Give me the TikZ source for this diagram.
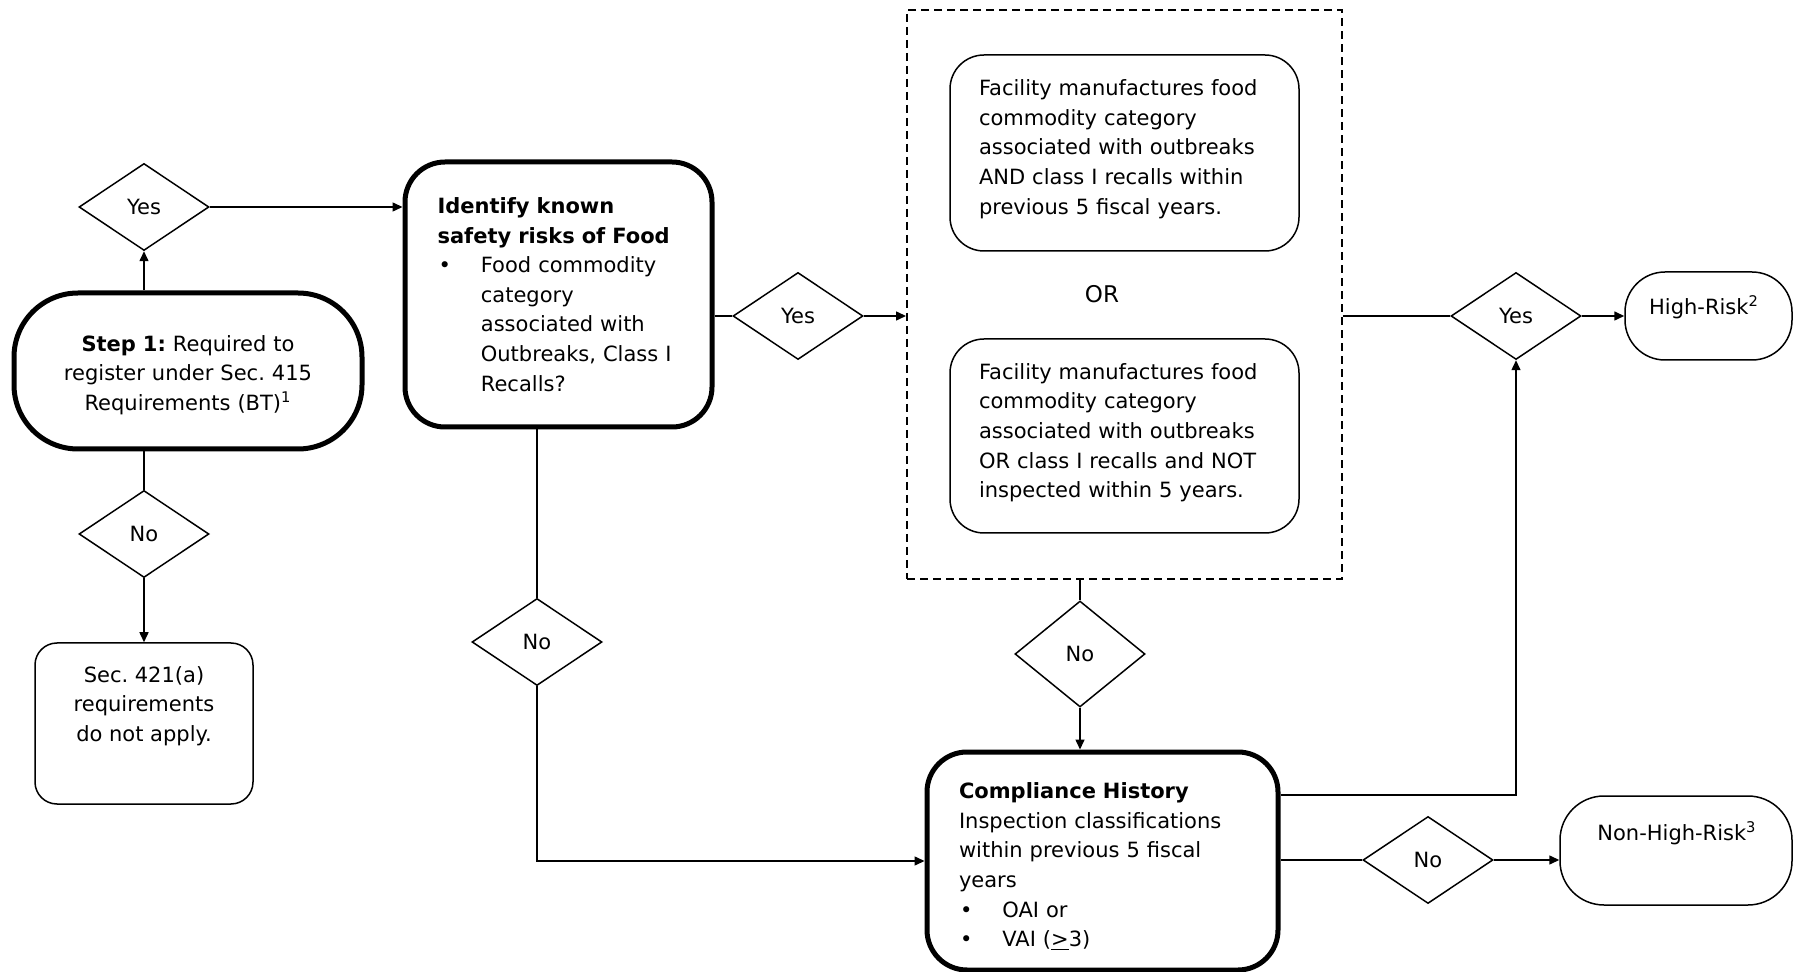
\documentclass[tikz,border=0pt]{standalone}
\usepackage{fontspec}
\setmainfont{DejaVu Sans}
\usetikzlibrary{shapes.geometric,arrows.meta}
\frenchspacing
\begin{document}
\begin{tikzpicture}[x=0.5pt,y=-0.5pt,
  every node/.style={font=\fontsize{10.5}{14.8}\selectfont},
  bigbox/.style={draw,line width=2.5pt,rounded corners=20pt,inner ysep=0pt},
  thinbox/.style={draw,line width=0.75pt},
  dec/.style={draw,diamond,line width=0.75pt,inner sep=0pt,minimum width=65pt,minimum height=43.5pt},
  conn/.style={line width=0.75pt},
  arr/.style={conn,-{Triangle[length=5pt,width=4.5pt]}},
  grpbox/.style={draw,line width=1pt,dash pattern=on 4pt off 2.5pt},
]
\useasboundingbox (0,0) rectangle (1794,972);

% main boxes
\node[bigbox, rounded corners=32pt, minimum width=174pt, minimum height=78pt, align=center, text width=160pt] (step) at (188,371)
  {\rule{0pt}{12pt}\textbf{Step 1:} Required to\\register under Sec. 415\\Requirements (BT)\textsuperscript{1}};

\node[bigbox, minimum width=153.5pt, minimum height=132.5pt, text width=121pt, inner xsep=16.25pt, align=left] (id) at (558.5,294.5)
  {\textbf{Identify known}\\\textbf{safety risks of Food}\\\makebox[21.7pt][l]{\hspace{0.5pt}\textbullet}\parbox[t]{100pt}{Food commodity\\category\\associated with\\Outbreaks, Class I\\Recalls?}};

\node[grpbox, minimum width=217.5pt, minimum height=284.5pt] (grp) at (1124.5,294.5) {};

\node[thinbox, rounded corners=17pt, minimum width=174.5pt, minimum height=98pt, text width=145.5pt, inner xsep=14.5pt, align=left] (boxa) at (1124.5,153)
  {Facility manufactures food\\commodity category\\associated with outbreaks\\AND class I recalls within\\previous 5 fiscal years.\rule[-6pt]{0pt}{0pt}};

\node (or) at (1102,294) {\fontsize{11.5}{13}\selectfont OR};

\node[thinbox, rounded corners=17pt, minimum width=174.5pt, minimum height=97pt, text width=145.5pt, inner xsep=14.5pt, align=left] (boxb) at (1124.5,436)
  {Facility manufactures food\\commodity category\\associated with outbreaks\\OR class I recalls and NOT\\inspected within 5 years.\rule[-5.4pt]{0pt}{0pt}};

\node[bigbox, minimum width=175.5pt, minimum height=109pt, text width=143.5pt, inner xsep=16pt, align=left] (comp) at (1102.5,861)
  {\rule{0pt}{13.7pt}\textbf{Compliance History}\\Inspection classifications\\within previous 5 fiscal\\years\\\makebox[21.7pt][l]{\hspace{0.5pt}\textbullet}OAI or\\\makebox[21.7pt][l]{\hspace{0.5pt}\textbullet}VAI (\underline{>}3)};

\node[thinbox, rounded corners=11pt, minimum width=109pt, minimum height=80.5pt] (sec) at (144,723.5) {};
\node[align=center] (sectext) at (144,706) {Sec. 421(a)\\requirements\\do not apply.};

\node[thinbox, rounded corners=20pt, minimum width=83.5pt, minimum height=44pt] (hr) at (1708.5,316) {};
\node (hrt) at (1704,307) {High-Risk\textsuperscript{2}};

\node[thinbox, rounded corners=22pt, minimum width=116pt, minimum height=54.5pt] (nhr) at (1676,850.5) {};
\node (nhrt) at (1677,833) {Non-High-Risk\textsuperscript{3}};

% decisions
\node[dec] (yes1) at (144,207) {Yes};
\node[dec] (no1) at (144,534) {No};
\node[dec] (yes2) at (798,316) {Yes};
\node[dec] (no2) at (537,642) {No};
\node[dec, minimum height=53pt] (no3) at (1080,654) {No};
\node[dec] (yes3) at (1516,316) {Yes};
\node[dec] (no4) at (1428,860) {No};

% connectors
\draw[arr] (yes1.south |- step.north) -- (yes1.south);
\draw[arr] (yes1.east) -- (yes1.east -| id.west);
\draw[conn] (no1.north |- step.south) -- (no1.north);
\draw[arr] (no1.south) -- (sec.north);
\draw[conn] (id.east |- yes2.west) -- (yes2.west);
\draw[arr] (yes2.east) -- (yes2.east -| grp.west);
\draw[conn] (no2.north |- id.south) -- (no2.north);
\draw[arr] (no2.south) |- (comp.west);
\draw[conn] (no3.north |- grp.south) -- (no3.north);
\draw[arr] (no3.south) -- (no3.south |- comp.north);
\draw[conn] (grp.east |- yes3.west) -- (yes3.west);
\draw[arr] (yes3.east) -- (yes3.east -| hr.west);
\draw[arr] ([yshift=33pt]comp.east) -| (yes3.south);
\draw[conn] (comp.east |- no4.west) -- (no4.west);
\draw[arr] (no4.east) -- (no4.east -| nhr.west);
\end{tikzpicture}
\end{document}
